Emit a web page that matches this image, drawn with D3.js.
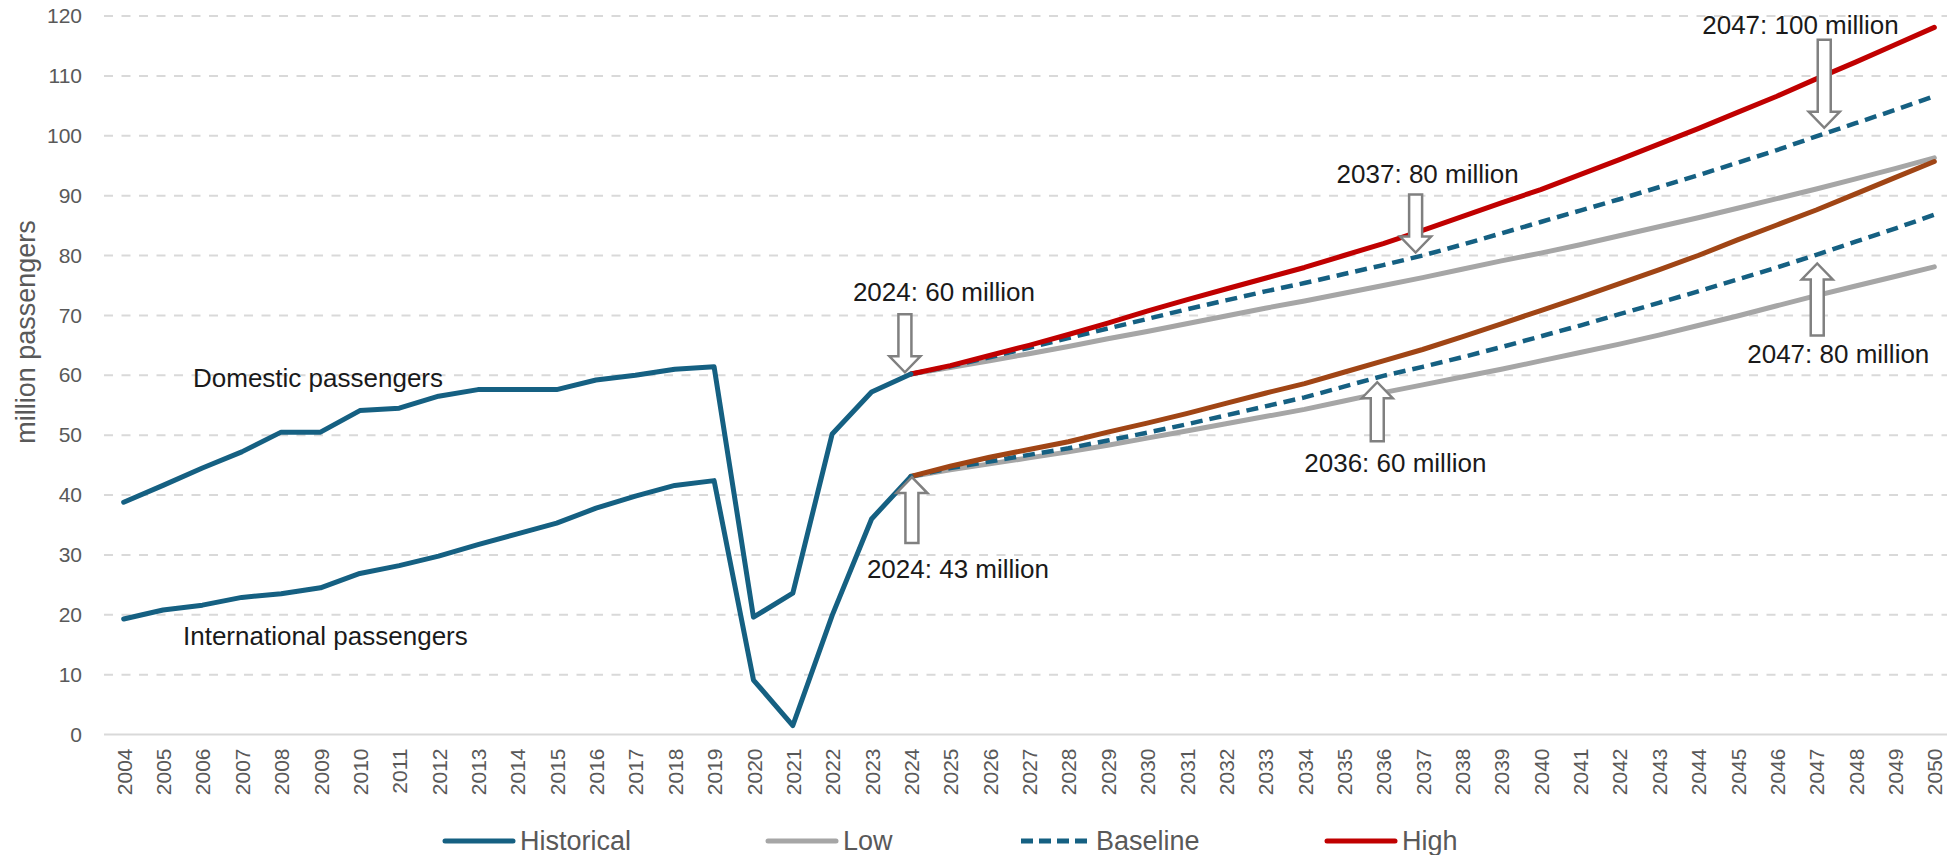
<!doctype html>
<html lang="en">
<head>
  <meta charset="utf-8">
  <title>Passenger forecast</title>
  <style>
    body { margin: 0; background: #fff; }
    svg { display: block; }
    text { font-family: "Liberation Sans", Arial, sans-serif; }
  </style>
</head>
<body>
  <script src="https://cdn.jsdelivr.net/npm/d3@7"></script>
  <script>
    // ---- data ----
    var histYears = d3.range(2004, 2025)
    var projYears = d3.range(2024, 2051)
    var allYears = d3.range(2004, 2051)

    var domesticHist = [38.8, 41.6, 44.5, 47.2, 50.5, 50.5, 54.1, 54.5, 56.5, 57.6, 57.6, 57.6, 59.2, 60.0, 61.0, 61.4, 19.6, 23.6, 50.2, 57.2, 60.2]
    var internationalHist = [19.3, 20.8, 21.6, 22.9, 23.5, 24.5, 26.9, 28.2, 29.8, 31.7, 33.5, 35.3, 37.8, 39.8, 41.6, 42.4, 9.1, 1.5, 19.9, 36.0, 43.1]

    var domesticLow = [60.2, 61.3, 62.4, 63.6, 64.8, 66.1, 67.3, 68.6, 69.9, 71.2, 72.4, 73.7, 75.0, 76.3, 77.7, 79.1, 80.4, 81.8, 83.3, 84.8, 86.3, 87.9, 89.5, 91.1, 92.8, 94.5, 96.3]
    var domesticBase = [60.2, 61.5, 63.0, 64.6, 66.2, 67.8, 69.4, 71.0, 72.5, 74.0, 75.4, 76.9, 78.4, 80.0, 81.8, 83.7, 85.6, 87.5, 89.4, 91.4, 93.4, 95.5, 97.6, 99.9, 102.1, 104.3, 106.6]
    var domesticHigh = [60.2, 61.6, 63.3, 65.0, 66.8, 68.7, 70.7, 72.6, 74.4, 76.2, 78.0, 80.0, 82.0, 84.2, 86.5, 88.8, 91.0, 93.5, 96.0, 98.6, 101.2, 103.9, 106.6, 109.5, 112.3, 115.2, 118.1]

    var internationalLow = [43.1, 44.2, 45.2, 46.2, 47.2, 48.3, 49.5, 50.7, 51.9, 53.1, 54.3, 55.7, 57.1, 58.4, 59.7, 61.0, 62.4, 63.8, 65.2, 66.7, 68.3, 69.9, 71.6, 73.3, 74.9, 76.5, 78.1]
    var internationalBase = [43.1, 44.5, 45.6, 46.7, 47.8, 49.1, 50.4, 51.8, 53.3, 54.8, 56.3, 58.1, 59.9, 61.4, 63.0, 64.7, 66.5, 68.3, 70.2, 72.1, 74.0, 76.0, 78.0, 80.1, 82.3, 84.5, 86.8]
    var internationalHigh = [43.1, 44.8, 46.3, 47.6, 48.9, 50.5, 52.0, 53.6, 55.3, 57.0, 58.6, 60.5, 62.4, 64.3, 66.4, 68.6, 70.8, 73.0, 75.3, 77.6, 80.0, 82.6, 85.1, 87.6, 90.3, 93.0, 95.7]

    var yTicks = [0, 10, 20, 30, 40, 50, 60, 70, 80, 90, 100, 110, 120]
    var legendNames = ['Historical', 'Low', 'Baseline', 'High']
    var seriesLabels = ['Domestic passengers', 'International passengers']

    var callouts = [
      { year: 2024, value: 60, text: '2024: 60 million', dir: 'down' },
      { year: 2024, value: 43, text: '2024: 43 million', dir: 'up' },
      { year: 2037, value: 80, text: '2037: 80 million', dir: 'down' },
      { year: 2047, value: 100, text: '2047: 100 million', dir: 'down' },
      { year: 2036, value: 60, text: '2036: 60 million', dir: 'up' },
      { year: 2047, value: 80, text: '2047: 80 million', dir: 'up' }
    ]

    // ---- layout ----
    var W = 1947, H = 855
    var blue = '#156082', gray = '#a6a6a6', red = '#c00000', brown = '#a04515'

    var svg = d3.select('body').append('svg')
      .attr('width', W)
      .attr('height', H)

    var x = d3.scalePoint()
      .domain(allYears)
      .range([104, 1954])
      .padding(0.5)

    var y = d3.scaleLinear()
      .domain([0, 120])
      .range([734.5, 16])

    // gridlines
    svg.append('g').selectAll('line')
      .data(yTicks.filter(function(d) { return d > 0 }))
      .enter().append('line')
      .attr('x1', 104).attr('x2', W)
      .attr('y1', function(d) { return y(d) })
      .attr('y2', function(d) { return y(d) })
      .style('stroke', '#d9d9d9')
      .style('stroke-width', 2)
      .style('stroke-dasharray', '9,8.5')

    svg.append('line')
      .attr('x1', 104).attr('x2', W)
      .attr('y1', y(0)).attr('y2', y(0))
      .style('stroke', '#d9d9d9')
      .style('stroke-width', 2)

    // y axis labels
    var yAxis = d3.axisLeft(y).tickValues(yTicks).tickSize(0).tickPadding(0)
    var yg = svg.append('g')
      .attr('transform', 'translate(82, 0)')
      .call(yAxis)
    yg.select('.domain').remove()
    yg.selectAll('text')
      .style('font-size', '21px')
      .style('fill', '#595959')
      .style('font-family', '"Liberation Sans", Arial, sans-serif')

    // x axis labels (rotated)
    var xAxis = d3.axisBottom(x).tickSize(0).tickPadding(0)
    var xg = svg.append('g')
      .attr('transform', 'translate(0, ' + y(0) + ')')
      .call(xAxis)
    xg.select('.domain').remove()
    xg.selectAll('text')
      .attr('transform', 'rotate(-90)')
      .attr('x', -14)
      .attr('y', 0)
      .attr('dy', '0.36em')
      .style('text-anchor', 'end')
      .style('font-size', '21px')
      .style('fill', '#595959')
      .style('font-family', '"Liberation Sans", Arial, sans-serif')

    // y title
    svg.append('text')
      .attr('transform', 'translate(26, 332) rotate(-90)')
      .attr('dy', '0.35em')
      .style('text-anchor', 'middle')
      .style('font-size', '27px')
      .style('fill', '#595959')
      .text('million passengers')

    // lines
    var lineHist = d3.line()
      .x(function(d, i) { return x(histYears[i]) })
      .y(function(d) { return y(d) })
    var lineProj = d3.line()
      .x(function(d, i) { return x(projYears[i]) })
      .y(function(d) { return y(d) })

    var series = [
      { values: domesticLow, gen: lineProj, color: gray, width: 5, dash: null },
      { values: internationalLow, gen: lineProj, color: gray, width: 5, dash: null },
      { values: domesticBase, gen: lineProj, color: blue, width: 4.5, dash: '12,7' },
      { values: internationalBase, gen: lineProj, color: blue, width: 4.5, dash: '12,7' },
      { values: domesticHigh, gen: lineProj, color: red, width: 5, dash: null },
      { values: internationalHigh, gen: lineProj, color: brown, width: 5, dash: null },
      { values: domesticHist, gen: lineHist, color: blue, width: 5, dash: null },
      { values: internationalHist, gen: lineHist, color: blue, width: 5, dash: null }
    ]

    svg.append('g').selectAll('path')
      .data(series)
      .enter().append('path')
      .attr('d', function(d) { return d.gen(d.values) })
      .style('fill', 'none')
      .style('stroke', function(d) { return d.color })
      .style('stroke-width', function(d) { return d.width })
      .style('stroke-dasharray', function(d) { return d.dash })
      .style('stroke-linejoin', 'round')
      .style('stroke-linecap', function(d) { return d.dash ? 'butt' : 'round' })

    // series labels
    var seriesLabelPos = [[193, 387], [183, 645]]
    svg.append('g').selectAll('text')
      .data(seriesLabels)
      .enter().append('text')
      .attr('x', function(d, i) { return seriesLabelPos[i][0] })
      .attr('y', function(d, i) { return seriesLabelPos[i][1] })
      .style('font-size', '26px')
      .style('fill', '#1a1a1a')
      .text(function(d) { return d })

    // callouts: arrow offsets and label offsets (px)
    var calloutLayout = [
      { dx: -6, gap: 3, len: 58, lx: -58, ly: -74 },
      { dx: 1, gap: 0, len: 66, lx: -44, ly: 101 },
      { dx: -7, gap: 3, len: 58, lx: -86, ly: -73 },
      { dx: 8, gap: 8, len: 88, lx: -114, ly: -102 },
      { dx: -6, gap: 7, len: 59, lx: -79, ly: 97 },
      { dx: 1, gap: 8, len: 72, lx: -69, ly: 107 }
    ]

    function arrowPath(cx, tipY, len, dir) {
      var s = dir === 'down' ? -1 : 1
      var sw = 6.5, hw = 15.5, hl = 16
      var pts = [
        [cx - sw, tipY + s * len],
        [cx + sw, tipY + s * len],
        [cx + sw, tipY + s * hl],
        [cx + hw, tipY + s * hl],
        [cx, tipY],
        [cx - hw, tipY + s * hl],
        [cx - sw, tipY + s * hl]
      ]
      return 'M' + pts.map(function(p) { return p.join(',') }).join('L') + 'Z'
    }

    var co = svg.append('g').selectAll('g')
      .data(callouts)
      .enter().append('g')

    co.append('path')
      .attr('d', function(d, i) {
        var l = calloutLayout[i]
        var tip = y(d.value) + (d.dir === 'down' ? -l.gap : l.gap)
        return arrowPath(x(d.year) + l.dx, tip, l.len, d.dir)
      })
      .style('fill', '#fff')
      .style('stroke', '#808080')
      .style('stroke-width', 2.5)
      .style('stroke-linejoin', 'miter')

    co.append('text')
      .attr('x', function(d, i) { return x(d.year) + calloutLayout[i].lx })
      .attr('y', function(d, i) { return y(d.value) + calloutLayout[i].ly })
      .style('font-size', '26px')
      .style('fill', '#1a1a1a')
      .text(function(d) { return d.text })

    // legend
    var legendStyle = [
      { color: blue, dash: null, x: 443 },
      { color: gray, dash: null, x: 766 },
      { color: blue, dash: '12,6', x: 1019 },
      { color: red, dash: null, x: 1325 }
    ]
    var lg = svg.append('g').selectAll('g')
      .data(legendNames)
      .enter().append('g')
      .attr('transform', function(d, i) { return 'translate(' + legendStyle[i].x + ', 841)' })

    lg.append('line')
      .attr('x1', 2).attr('x2', 70)
      .style('stroke', function(d, i) { return legendStyle[i].color })
      .style('stroke-width', 5)
      .style('stroke-linecap', function(d, i) { return legendStyle[i].dash ? 'butt' : 'round' })
      .style('stroke-dasharray', function(d, i) { return legendStyle[i].dash })

    lg.append('text')
      .attr('x', 77)
      .attr('y', 9)
      .style('font-size', '27px')
      .style('fill', '#595959')
      .text(function(d) { return d })
  </script>
</body>
</html>
